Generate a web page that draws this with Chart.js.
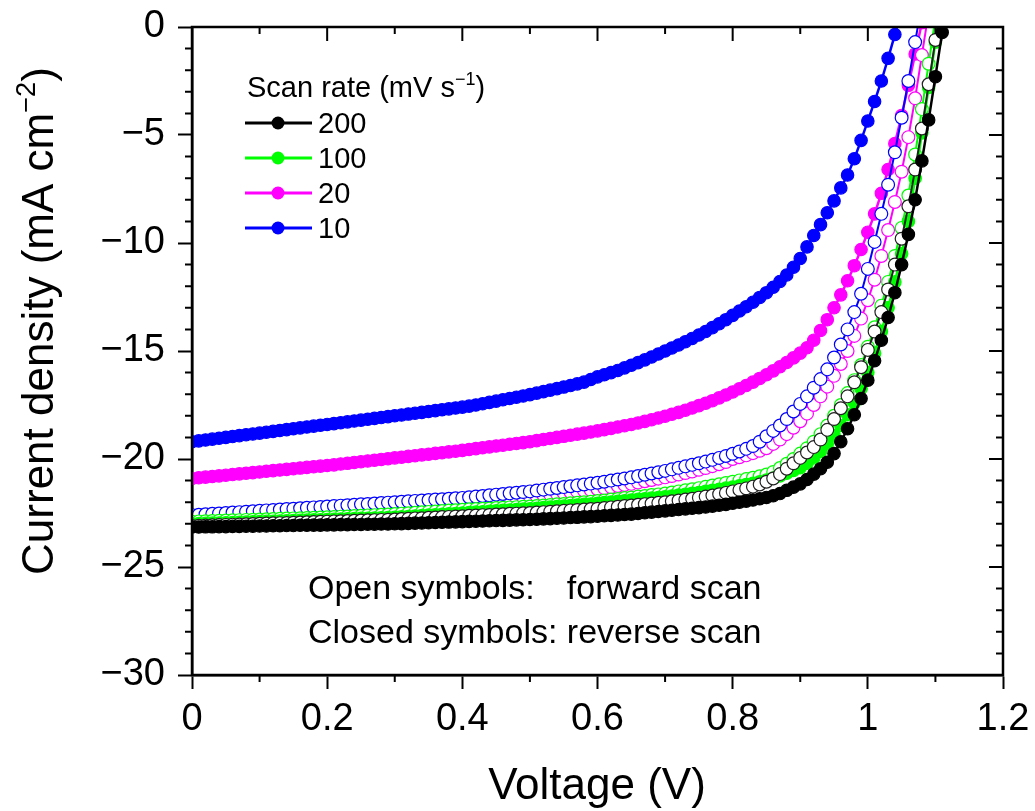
<!DOCTYPE html>
<html>
<head>
<meta charset="utf-8">
<title>J-V curves at different scan rates</title>
<script src="https://cdn.jsdelivr.net/npm/chart.js@4.4.1/dist/chart.umd.min.js"></script>
<style>
  html, body { margin: 0; padding: 0; background: #fff; }
  #wrap { width: 1035px; height: 811px; position: relative; }
</style>
</head>
<body>
<div id="wrap"><canvas id="jvChart"></canvas></div>
<script>
// Voltage steps of the J-V sweeps (V)
const voltage = [
  0.00, 0.01, 0.02, 0.03, 0.04, 0.05, 0.06, 0.07, 0.08, 0.09,
  0.10, 0.11, 0.12, 0.13, 0.14, 0.15, 0.16, 0.17, 0.18, 0.19,
  0.20, 0.21, 0.22, 0.23, 0.24, 0.25, 0.26, 0.27, 0.28, 0.29,
  0.30, 0.31, 0.32, 0.33, 0.34, 0.35, 0.36, 0.37, 0.38, 0.39,
  0.40, 0.41, 0.42, 0.43, 0.44, 0.45, 0.46, 0.47, 0.48, 0.49,
  0.50, 0.51, 0.52, 0.53, 0.54, 0.55, 0.56, 0.57, 0.58, 0.59,
  0.60, 0.61, 0.62, 0.63, 0.64, 0.65, 0.66, 0.67, 0.68, 0.69,
  0.70, 0.71, 0.72, 0.73, 0.74, 0.75, 0.76, 0.77, 0.78, 0.79,
  0.80, 0.81, 0.82, 0.83, 0.84, 0.85, 0.86, 0.87, 0.88, 0.89,
  0.90, 0.91, 0.92, 0.93, 0.94, 0.95, 0.96, 0.97, 0.98, 0.99,
  1.00, 1.01, 1.02, 1.03, 1.04, 1.05, 1.06, 1.07, 1.08, 1.09,
  1.10, 1.11, 1.12
];

// Current density (mA cm-2), reverse scans (closed symbols)
const rev200 = [
  -23.15, -23.15, -23.14, -23.14, -23.13, -23.13, -23.12, -23.12, -23.11, -23.11,
  -23.10, -23.10, -23.09, -23.09, -23.08, -23.08, -23.07, -23.07, -23.06, -23.06,
  -23.05, -23.05, -23.04, -23.04, -23.03, -23.03, -23.02, -23.02, -23.01, -23.01,
  -23.00, -22.99, -22.98, -22.97, -22.96, -22.95, -22.94, -22.93, -22.92, -22.91,
  -22.90, -22.89, -22.88, -22.87, -22.86, -22.85, -22.84, -22.83, -22.82, -22.81,
  -22.80, -22.79, -22.77, -22.76, -22.74, -22.73, -22.71, -22.70, -22.68, -22.67,
  -22.65, -22.63, -22.61, -22.59, -22.57, -22.55, -22.52, -22.49, -22.46, -22.43,
  -22.40, -22.37, -22.34, -22.31, -22.28, -22.25, -22.22, -22.18, -22.14, -22.10,
  -22.05, -22.00, -21.95, -21.90, -21.84, -21.78, -21.70, -21.60, -21.45, -21.30,
  -21.15, -20.95, -20.70, -20.45, -20.15, -19.75, -19.20, -18.60, -17.95, -17.20,
  -16.35, -15.45, -14.50, -13.45, -12.30, -11.00, -9.60, -8.00, -6.20, -4.30,
  -2.30, -0.25, 1.80
];
const rev100 = [
  -23.00, -22.99, -22.98, -22.97, -22.96, -22.95, -22.94, -22.93, -22.92, -22.91,
  -22.90, -22.89, -22.88, -22.87, -22.86, -22.85, -22.84, -22.83, -22.82, -22.81,
  -22.80, -22.79, -22.78, -22.77, -22.76, -22.75, -22.74, -22.73, -22.72, -22.71,
  -22.70, -22.68, -22.66, -22.64, -22.62, -22.60, -22.58, -22.56, -22.54, -22.52,
  -22.50, -22.48, -22.46, -22.44, -22.42, -22.40, -22.38, -22.36, -22.34, -22.32,
  -22.30, -22.28, -22.25, -22.23, -22.20, -22.18, -22.15, -22.13, -22.10, -22.08,
  -22.05, -22.02, -21.99, -21.96, -21.93, -21.90, -21.87, -21.84, -21.81, -21.78,
  -21.75, -21.71, -21.67, -21.63, -21.59, -21.55, -21.50, -21.45, -21.40, -21.35,
  -21.30, -21.24, -21.18, -21.12, -21.05, -20.97, -20.88, -20.78, -20.66, -20.53,
  -20.40, -20.20, -19.95, -19.65, -19.30, -18.90, -18.45, -17.95, -17.40, -16.75,
  -16.00, -15.10, -14.10, -13.00, -11.80, -10.50, -9.00, -7.00, -4.90, -2.80,
  -0.70, 1.40
];
const rev20 = [
  -20.90, -20.87, -20.84, -20.81, -20.78, -20.75, -20.72, -20.69, -20.66, -20.63,
  -20.60, -20.57, -20.54, -20.51, -20.48, -20.45, -20.42, -20.39, -20.36, -20.33,
  -20.30, -20.27, -20.23, -20.20, -20.16, -20.13, -20.09, -20.06, -20.02, -19.99,
  -19.95, -19.92, -19.88, -19.85, -19.81, -19.78, -19.74, -19.71, -19.67, -19.64,
  -19.60, -19.56, -19.52, -19.48, -19.44, -19.40, -19.36, -19.32, -19.28, -19.24,
  -19.20, -19.15, -19.10, -19.05, -19.00, -18.95, -18.90, -18.85, -18.80, -18.75,
  -18.70, -18.64, -18.58, -18.52, -18.46, -18.40, -18.33, -18.26, -18.18, -18.10,
  -18.02, -17.93, -17.84, -17.74, -17.64, -17.53, -17.42, -17.30, -17.17, -17.04,
  -16.90, -16.75, -16.60, -16.44, -16.27, -16.10, -15.92, -15.73, -15.53, -15.32,
  -15.10, -14.85, -14.50, -14.05, -13.55, -13.00, -12.40, -11.75, -11.05, -10.30,
  -9.50, -8.65, -7.70, -6.60, -5.40, -4.10, -2.70, -1.25, 0.20
];
const rev10 = [
  -19.20, -19.16, -19.12, -19.08, -19.04, -19.00, -18.96, -18.92, -18.88, -18.84,
  -18.80, -18.76, -18.72, -18.68, -18.64, -18.60, -18.56, -18.52, -18.48, -18.44,
  -18.40, -18.36, -18.32, -18.28, -18.24, -18.20, -18.16, -18.12, -18.08, -18.04,
  -18.00, -17.96, -17.92, -17.88, -17.84, -17.80, -17.76, -17.72, -17.68, -17.64,
  -17.60, -17.55, -17.50, -17.44, -17.38, -17.32, -17.26, -17.20, -17.14, -17.08,
  -17.02, -16.95, -16.88, -16.81, -16.74, -16.67, -16.60, -16.52, -16.44, -16.32,
  -16.20, -16.10, -16.00, -15.90, -15.78, -15.66, -15.54, -15.41, -15.28, -15.14,
  -15.00, -14.86, -14.72, -14.57, -14.42, -14.26, -14.10, -13.92, -13.74, -13.55,
  -13.35, -13.15, -12.95, -12.74, -12.52, -12.30, -12.05, -11.78, -11.48, -11.12,
  -10.72, -10.18, -9.65, -9.15, -8.60, -8.05, -7.45, -6.85, -6.10, -5.25,
  -4.35, -3.45, -2.50, -1.45, -0.35, 0.80
];

// Current density (mA cm-2), forward scans (open symbols)
const fwd200 = [
  -23.10, -23.09, -23.08, -23.07, -23.06, -23.05, -23.04, -23.03, -23.02, -23.01,
  -23.00, -22.99, -22.98, -22.97, -22.96, -22.95, -22.94, -22.93, -22.92, -22.91,
  -22.90, -22.89, -22.88, -22.87, -22.86, -22.85, -22.84, -22.83, -22.82, -22.81,
  -22.80, -22.78, -22.77, -22.75, -22.74, -22.72, -22.71, -22.69, -22.68, -22.66,
  -22.65, -22.63, -22.62, -22.60, -22.59, -22.57, -22.56, -22.54, -22.53, -22.51,
  -22.50, -22.48, -22.46, -22.44, -22.42, -22.40, -22.38, -22.36, -22.34, -22.32,
  -22.30, -22.27, -22.24, -22.21, -22.18, -22.15, -22.12, -22.09, -22.06, -22.03,
  -22.00, -21.96, -21.92, -21.88, -21.84, -21.79, -21.74, -21.69, -21.63, -21.57,
  -21.50, -21.43, -21.36, -21.28, -21.18, -21.05, -20.90, -20.70, -20.45, -20.20,
  -19.95, -19.70, -19.45, -19.10, -18.65, -18.15, -17.65, -17.10, -16.45, -15.75,
  -14.95, -14.10, -13.20, -12.15, -11.00, -9.80, -8.30, -6.60, -4.70, -2.65,
  -0.60, 1.40
];
const fwd100 = [
  -22.90, -22.89, -22.88, -22.87, -22.86, -22.85, -22.84, -22.83, -22.82, -22.81,
  -22.80, -22.79, -22.78, -22.77, -22.76, -22.75, -22.74, -22.73, -22.72, -22.71,
  -22.70, -22.69, -22.67, -22.66, -22.64, -22.63, -22.61, -22.60, -22.58, -22.57,
  -22.55, -22.53, -22.51, -22.49, -22.47, -22.45, -22.43, -22.41, -22.39, -22.37,
  -22.35, -22.33, -22.32, -22.30, -22.29, -22.27, -22.26, -22.24, -22.23, -22.21,
  -22.20, -22.18, -22.15, -22.13, -22.10, -22.08, -22.05, -22.03, -22.00, -21.98,
  -21.95, -21.92, -21.88, -21.85, -21.81, -21.78, -21.74, -21.71, -21.67, -21.64,
  -21.60, -21.55, -21.50, -21.45, -21.40, -21.35, -21.29, -21.23, -21.17, -21.11,
  -21.05, -20.99, -20.93, -20.87, -20.80, -20.72, -20.60, -20.42, -20.22, -20.00,
  -19.75, -19.50, -19.20, -18.85, -18.45, -18.00, -17.50, -16.95, -16.35, -15.65,
  -14.80, -13.90, -12.90, -11.80, -10.60, -9.30, -7.80, -5.90, -3.80, -1.70,
  0.40
];
const fwd20 = [
  -22.70, -22.69, -22.67, -22.66, -22.64, -22.63, -22.61, -22.60, -22.58, -22.57,
  -22.55, -22.54, -22.52, -22.51, -22.49, -22.48, -22.46, -22.45, -22.43, -22.42,
  -22.40, -22.38, -22.36, -22.34, -22.32, -22.30, -22.28, -22.26, -22.24, -22.22,
  -22.20, -22.18, -22.16, -22.14, -22.12, -22.10, -22.08, -22.06, -22.04, -22.02,
  -22.00, -21.98, -21.95, -21.93, -21.90, -21.88, -21.85, -21.83, -21.80, -21.78,
  -21.75, -21.72, -21.68, -21.65, -21.61, -21.58, -21.54, -21.51, -21.47, -21.44,
  -21.40, -21.35, -21.30, -21.25, -21.20, -21.15, -21.09, -21.03, -20.97, -20.91,
  -20.85, -20.79, -20.72, -20.65, -20.58, -20.50, -20.42, -20.33, -20.24, -20.14,
  -20.00, -19.92, -19.83, -19.73, -19.62, -19.50, -19.30, -19.10, -18.85, -18.55,
  -18.25, -17.90, -17.50, -17.10, -16.65, -16.15, -15.60, -15.00, -14.30, -13.50,
  -12.65, -11.70, -10.60, -9.40, -8.10, -6.70, -5.10, -3.30, -1.30, 0.70
];
const fwd10 = [
  -22.60, -22.58, -22.56, -22.54, -22.52, -22.50, -22.48, -22.46, -22.44, -22.42,
  -22.40, -22.38, -22.36, -22.34, -22.32, -22.30, -22.28, -22.26, -22.24, -22.22,
  -22.20, -22.18, -22.16, -22.14, -22.12, -22.10, -22.08, -22.06, -22.04, -22.02,
  -22.00, -21.98, -21.96, -21.94, -21.92, -21.90, -21.88, -21.86, -21.84, -21.82,
  -21.80, -21.77, -21.74, -21.71, -21.68, -21.65, -21.62, -21.59, -21.56, -21.53,
  -21.50, -21.46, -21.42, -21.38, -21.34, -21.30, -21.26, -21.22, -21.18, -21.14,
  -21.10, -21.05, -21.00, -20.95, -20.90, -20.85, -20.79, -20.73, -20.67, -20.61,
  -20.55, -20.48, -20.41, -20.34, -20.27, -20.20, -20.12, -20.04, -19.95, -19.86,
  -19.76, -19.65, -19.53, -19.40, -19.20, -18.95, -18.70, -18.45, -18.15, -17.80,
  -17.45, -17.10, -16.70, -16.30, -15.85, -15.30, -14.70, -14.00, -13.20, -12.35,
  -11.20, -9.95, -8.65, -7.30, -5.80, -4.20, -2.50, -0.70, 1.10
];

const scanRates = ['200', '100', '20', '10'];
const rateColors = ['#000000', '#00ff00', '#ff00ff', '#0000ff'];
const xTicks = [0, 0.2, 0.4, 0.6, 0.8, 1.0, 1.2];
const yTicks = [-30, -25, -20, -15, -10, -5, 0];

const FONT = '"Liberation Sans", Arial, Helvetica, sans-serif';

function toPoints(values) {
  return values.map((j, i) => ({ x: voltage[i], y: j }));
}

// closed symbols = reverse scan
function closedSet(rate, color, values) {
  return {
    label: rate + ' reverse',
    data: toPoints(values),
    borderColor: color,
    backgroundColor: color,
    borderWidth: 2.5,
    pointRadius: 6.2,
    pointBorderWidth: 1.2,
    pointBackgroundColor: color,
    pointBorderColor: color,
    clip: 0
  };
}

// open symbols = forward scan
function openSet(rate, color, values) {
  return {
    label: rate + ' forward',
    data: toPoints(values),
    borderColor: color,
    backgroundColor: '#ffffff',
    borderWidth: 2,
    pointRadius: 6.4,
    pointBorderWidth: 1.2,
    pointBackgroundColor: '#ffffff',
    pointBorderColor: color,
    clip: 0
  };
}

// text runs drawn left to right, superscript runs are raised and smaller
function runsWidth(ctx, runs, size) {
  let w = 0;
  for (const [text, sup] of runs) {
    ctx.font = `${sup ? size * 0.62 : size}px ${FONT}`;
    w += ctx.measureText(text).width;
  }
  return w;
}

function drawRuns(ctx, runs, x, y, size) {
  let cx = x;
  for (const [text, sup] of runs) {
    ctx.font = `${sup ? size * 0.62 : size}px ${FONT}`;
    ctx.fillText(text, cx, sup ? y - size * 0.4 : y);
    cx += ctx.measureText(text).width;
  }
}

// Box frame, minor ticks, inner ticks on top/right, titles, legend and notes
const framePlugin = {
  id: 'framePlugin',
  afterDraw(chart) {
    const { ctx, chartArea: a, scales } = chart;
    const xs = scales.x;
    const ys = scales.y;
    ctx.save();
    ctx.strokeStyle = '#000';
    ctx.lineWidth = 2.5;
    ctx.strokeRect(a.left, a.top, a.right - a.left, a.bottom - a.top);

    ctx.lineWidth = 2;
    ctx.beginPath();
    for (let k = 0; k <= 12; k++) {
      const px = xs.getPixelForValue(k / 10);
      const len = k % 2 === 0 ? 14 : 7;
      if (k % 2 === 1) {
        ctx.moveTo(px, a.bottom);
        ctx.lineTo(px, a.bottom + len);
      }
      ctx.moveTo(px, a.top);
      ctx.lineTo(px, a.top + len);
    }
    for (let k = -30; k <= 0; k++) {
      const py = ys.getPixelForValue(k);
      const len = k % 5 === 0 ? 14 : 7;
      if (k % 5 !== 0) {
        ctx.moveTo(a.left, py);
        ctx.lineTo(a.left - len, py);
      }
      ctx.moveTo(a.right, py);
      ctx.lineTo(a.right - len, py);
    }
    ctx.stroke();

    ctx.fillStyle = '#000';
    ctx.textBaseline = 'alphabetic';
    ctx.textAlign = 'left';

    // axis titles
    const xTitle = [['Voltage (V)', false]];
    const xw = runsWidth(ctx, xTitle, 44);
    drawRuns(ctx, xTitle, 597 - xw / 2, 799, 44);

    const yTitle = [['Current density (mA cm', false], ['\u22122', true], [')', false]];
    const yw = runsWidth(ctx, yTitle, 44);
    ctx.save();
    ctx.translate(53, 321);
    ctx.rotate(-Math.PI / 2);
    drawRuns(ctx, yTitle, -yw / 2, 0, 44);
    ctx.restore();

    // legend
    drawRuns(ctx, [['Scan rate (mV s', false], ['\u22121', true], [')', false]], 247, 97, 29);
    scanRates.forEach((rate, i) => {
      const ly = 123 + 35 * i;
      ctx.strokeStyle = rateColors[i];
      ctx.lineWidth = 3;
      ctx.beginPath();
      ctx.moveTo(245, ly);
      ctx.lineTo(312, ly);
      ctx.stroke();
      ctx.fillStyle = rateColors[i];
      ctx.beginPath();
      ctx.arc(278, ly, 6.5, 0, Math.PI * 2);
      ctx.fill();
      ctx.fillStyle = '#000';
      ctx.font = `29px ${FONT}`;
      ctx.fillText(rate, 318, ly + 10);
    });

    // notes
    ctx.font = `34px ${FONT}`;
    const indent = ctx.measureText('Closed symbols: ').width;
    ctx.fillText('Open symbols:', 308, 599);
    ctx.fillText('forward scan', 308 + indent, 599);
    ctx.fillText('Closed symbols: reverse scan', 308, 643);
    ctx.restore();
  }
};

const ctx = document.getElementById('jvChart').getContext('2d');
new Chart(ctx, {
  type: 'line',
  data: {
    // first dataset is painted last (on top)
    datasets: [
      closedSet(scanRates[0], rateColors[0], rev200),
      openSet(scanRates[0], '#222222', fwd200),
      closedSet(scanRates[1], rateColors[1], rev100),
      openSet(scanRates[1], rateColors[1], fwd100),
      openSet(scanRates[3], rateColors[3], fwd10),
      closedSet(scanRates[3], rateColors[3], rev10),
      openSet(scanRates[2], rateColors[2], fwd20),
      closedSet(scanRates[2], rateColors[2], rev20)
    ]
  },
  options: {
    responsive: true,
    maintainAspectRatio: false,
    animation: false,
    layout: { padding: { top: 27, right: 32, left: 0, bottom: 0 } },
    plugins: {
      legend: { display: false },
      tooltip: { enabled: false }
    },
    scales: {
      x: {
        type: 'linear',
        min: 0,
        max: 1.2,
        afterFit: (scale) => {
          scale.height = 136;
          scale.paddingLeft = 0;
          scale.paddingRight = 0;
        },
        afterBuildTicks: (scale) => { scale.ticks = xTicks.map(v => ({ value: v })); },
        border: { display: true, color: '#000', width: 2.5 },
        grid: { drawOnChartArea: false, drawTicks: true, tickLength: 14, tickWidth: 2, color: '#000' },
        ticks: {
          color: '#000',
          padding: 8,
          maxRotation: 0,
          font: { size: 38, family: FONT },
          callback: (v) => (v === 0 ? '0' : Math.abs(v - 1) < 1e-9 ? '1' : v.toFixed(1))
        }
      },
      y: {
        type: 'linear',
        min: -30,
        max: 0,
        afterFit: (scale) => {
          scale.width = 192;
          scale.paddingTop = 0;
          scale.paddingBottom = 0;
        },
        afterBuildTicks: (scale) => { scale.ticks = yTicks.map(v => ({ value: v })); },
        border: { display: true, color: '#000', width: 2.5 },
        grid: { drawOnChartArea: false, drawTicks: true, tickLength: 14, tickWidth: 2, color: '#000' },
        ticks: {
          color: '#000',
          padding: 13,
          font: { size: 38, family: FONT },
          callback: (v) => (v === 0 ? '0' : '\u2212' + Math.abs(v))
        }
      }
    }
  },
  plugins: [framePlugin]
});
</script>
</body>
</html>
